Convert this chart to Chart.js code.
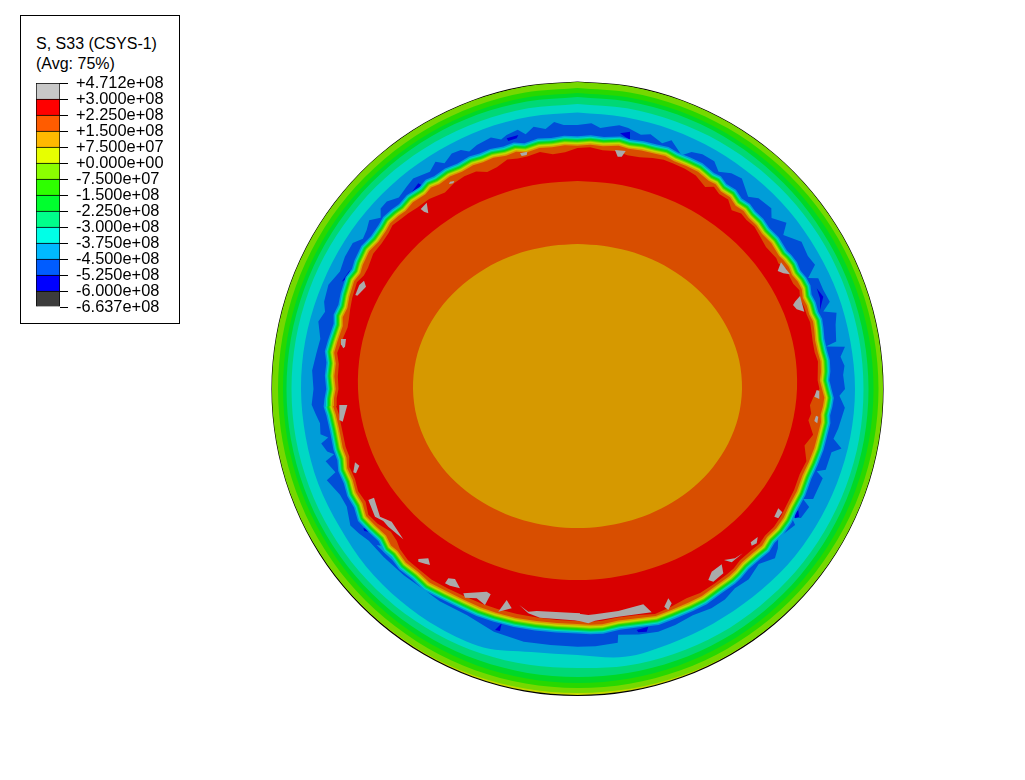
<!DOCTYPE html>
<html>
<head>
<meta charset="utf-8">
<title>S, S33 contour</title>
<script src="https://cdn.jsdelivr.net/npm/chart.js@4"></script>
<style>
  body { margin: 0; background: #fff; }
  #plot { position: absolute; left: 0; top: 0; }
  #legendBox { position: absolute; left: 20px; top: 15px; width: 160px; height: 309px; box-sizing: border-box; border: 1px solid #000; background: #fff; }
  #legendTitle { position: absolute; left: 15px; top: 18px; font: 16px/20px "Liberation Sans", sans-serif; color: #000; white-space: nowrap; }
  #legendCanvas { position: absolute; left: 0; top: 0; }
</style>
</head>
<body>
<canvas id="plot" width="1025" height="780"></canvas>
<div id="legendBox">
  <div id="legendTitle">S, S33 (CSYS-1)<br>(Avg: 75%)</div>
  <canvas id="legendCanvas" width="158" height="307"></canvas>
</div>
<script>
// legend, top to bottom
const legendLabels = ["+4.712e+08", "+3.000e+08", "+2.250e+08", "+1.500e+08", "+7.500e+07", "+0.000e+00", "-7.500e+07", "-1.500e+08",
  "-2.250e+08", "-3.000e+08", "-3.750e+08", "-4.500e+08", "-5.250e+08", "-6.000e+08", "-6.637e+08"];
const legendColors = ["#c8c8c8", "#ff0000", "#ff5c00", "#ffb900", "#e7ff00", "#8bff00", "#2eff00", "#00ff2e",
  "#00ff8b", "#00ffe7", "#00b9ff", "#005cff", "#0000ff", "#3c3c3c"];

// radii of the smooth contours, one value every 10 degrees clockwise from the top
const rimRadius = [307,307,306.8,306.5,306.3,306,305.8,305.6,305.5,305.5,305.6,305.8,306,306.2,306.4,306.5,306.5,306.5,306.5,306.5,306.5,306.4,306.2,306,305.8,305.6,305.5,305.5,305.5,305.6,305.8,306,306.3,306.5,306.8,307];
const limeRadius = [307,307,306.8,306.5,306.3,306,305.8,305.6,305.5,305.5,305.6,305.8,306,306,305.8,305.6,305,304.5,304,304,304.5,305,305.3,305.5,305.6,305.6,305.5,305.5,305.5,305.6,305.8,306,306.3,306.5,306.8,307];
const green1Radius = [301,301,301,301,301,301,301,301,301,301,301,300.8,300.5,300.3,300,299.8,299.5,299.2,299,299,299.2,299.3,299.4,299.5,299.5,299.5,299.5,299.5,299.6,299.8,300,300.2,300.4,300.6,300.8,301];
const green2Radius = [296,296,296,296,296,296,296,296,296,296,296,295.8,295.6,295.3,295,294.8,294.5,294.2,294,294,294.2,294.3,294.4,294.5,294.5,294.5,294.5,294.5,294.6,294.8,295,295.2,295.4,295.6,295.8,296];
const tealRadius = [292,292,292,291.8,291.5,291.3,291,291,291,291,291,290.8,290.6,290.4,290,289.5,289,288.5,288,288.3,288.7,289.2,289.8,290.3,290.6,290.8,291,291,291,291,291.2,291.4,291.6,291.8,292,292];
const cyanRadius = [285,285,285,285.3,285.5,285.7,286,286,286,286,286,285.6,285,284.5,283.5,283,282,281,279,280,281.5,282.5,283.5,284.5,285,285.5,286,286,286,286,285.8,285.6,285.4,285.2,285,285];
const blueRadius = [276.5,276,276,276,276,276.5,276.5,277,277,277.5,277,276,275,274,272,271,271,272,266,267,275,276,276,276,275,276,276,276.5,276.5,276,276,276,276,276,276.5,276.5];
const orangeRadius = [208,208.4,209.5,211.4,213.5,216,218.2,219.8,220.3,219.5,217.3,214,209.7,205,200.5,196.6,193.5,191.6,191,191.6,193.5,196.6,200.5,205,209.7,214,217.3,219.5,220.3,219.8,218.2,216,213.5,211.4,209.5,208.4];
const goldRadius = [145,145.5,147,149.4,152.4,155.9,159.4,162.3,164.2,164.5,163.2,160.3,156.4,152.1,147.8,144.2,141.3,139.6,139,139.6,141.3,144.2,147.8,152.1,156.4,160.3,163.2,164.5,164.2,162.3,159.4,155.9,152.4,149.4,147,145.5];

// jagged dark blue outer edge
const darkAngle = [0,3,5,6.7,9,11,14,16,19,20.7,24,25.7,28,31,33,35.5,38,41.6,43.5,47,48.6,51.5,53.2,56.7,60,62.4,64.3,65.3,68,70.9,72.5,73.6,76,79.6,80.3,81,83,85,87,90,91.5,94,98.6,101,102.7,104,108,109,110,115,116,117,120,121,122,126.6,128.5,130.6,134,138,141.7,145,148.6,153,157.5,161.6,166,170.6,171,176,180,186,192,199,206,213,216.6,223,229,234,236.5,239,243,246,250,251,254,255,256,258,259,260,262.4,264.5,266.6,270,274,278,281,284.6,287,289,292.7,296.3,299.6,303,305,307,309,311,312.5,314.5,317,319.8,322,325.8,328,329.5,331.9,334,335.5,337.6,341,343,344.4,347,348.5,350.5,353,355,357];
const darkRadius = [264,266,262,264,267,266,262,265,260,266,256,263,266,265.6,259,265,267,257,263,265,258.7,267,257,268,266,268,256,265,265,267,257.7,270,266,263,252,270.8,265,268,266,267.5,262,268,263.7,260.8,270.6,261.8,261,253,261,260,251,260,258,250,256.6,250,256,260,252,256,254,257,257,254,255.4,255.8,253,249,257,258,257.7,257.5,258.5,256.8,251.7,253,252.6,254.7,256.5,258,262,265,259,260,266.8,256,262,252,258,262,254,261,259.8,263,266.3,264,266,263.4,262,267.8,264,268,270,265,267.5,268,262,264,268,261,267,267.4,262,264.8,267,262.6,268,262,267,266,261,264,266,261,263.7,266,260,266,262,268,264.4];

// mid line of the steep ridge between the red and the dark blue
const ridgeAngle = [0,3,6,9.6,12,15,18,20.6,23,26,29,32.3,34,36,38.5,40.8,43,45,47.5,50,53,56.6,58,60,62,64,66,68,70,72.2,74,76,78.5,81.2,83.5,86,88,90,92,94,96,97.7,101,104,107.5,111,115,118.8,122,125.1,128,130.3,133,136.5,139,141,145,149,152.5,157,161,165,170,174,177,180,185,190,195,200,204,208.6,213,217.4,221,224.7,228,230,232.6,236,239,242,245,248,251,253.5,256,260.6,264,266,267.8,270,273,276,278.5,281,285,287,289.4,292,295.8,298,300,303.5,306.5,309.5,311.5,314,316,318.6,322,324,326,329,332,335,337.4,340,343,345.5,347.8,351,354,357];
const ridgeRadius = [242.3,243.5,243,245.7,244.5,246,246.5,248,246.5,247,247.5,245,246,243,244,241,242.5,241,241.5,240,241.5,240.5,242,243,242,244,244.5,242,243,242.4,244,243,241.5,242,243.5,243,241.5,243.5,246,245,243.5,244.7,243.5,243,241.5,240,241,240.6,242,241.6,239.5,241,239,238,239.5,240,239.5,240.5,239.8,239,239,236,234,235.5,235,234,234,234.6,236,237,238,238.4,240,242.7,241.5,243,241,242.5,240,243,245.6,242.5,243.5,241.5,242.5,240,241,240.7,242,244,242.7,240.8,242.5,242,245,243.8,242,244.5,243,245,247,245,247,248.8,246.5,247.3,249,248,246.5,247.8,246,248,246,246.8,245,246,244.5,245,243,244,241,243,242,243];
// where the solid red really stops, same angles, with its dents
const redRadius = [241,242,240,241,239,240,243,245,245,245,244,239,244,241,242,236,240,239,240,238,236,238,237,241,240,240,243,240,241,241,242,241,240,240,242,241,240,242,236,233,235,233,240,234,240,238,239,239,240,240,238,239,237,236,238,238,238,238,236,237,238,234,232,233,233,232,232,232,233,234,235,236,238,240,240,241,239,236,235,241,244,240,242,240,241,238,239,239,240,242,241,239,240,240,243,241,238,239,241,243,245,242,242,245,244,245,247,245,244,242,241,239,237,240,241,240,235,236,240,238,238,240,236,237]; 
// distance of each ridge contour from the mid line, outermost first
const ridgeOffsets = [10.5, 9, 8, 7, 6, 5, 4, 2.5, 1];
const ridgeColors = ["#009dd8", "#00d8c4", "#00d876", "#00d827", "#27d800", "#76d800", "#c4d800", "#d89d00", "#d84e00"];

// patches below are x and y measured from the disc centre
const greyPatches = [
  [[-57.5,235.7],[-50.2,237.3],[-50.8,234],[-55.8,233]],
  [[-127.5,207.3],[-123.2,208],[-124.2,205.7],[-128.5,205]],
  [[-150.8,186.3],[-149.2,175.7],[-153.5,177.3],[-156.8,180]],
  [[-213.5,108.3],[-211.5,102.3],[-220.2,93.3],[-222.2,94],[-218.2,104]],
  [[-236.5,50],[-231.5,50],[-232.5,42.3],[-234.2,40.7],[-236.5,44.7]],
  [[37.5,239],[48.2,238],[44.2,232.3],[40.2,232.3]],
  [[203.5,126.7],[212.5,114.7],[205.8,115.7],[200.2,118]],
  [[222.5,93],[226.8,77.3],[219.2,79.7],[215.5,84],[217.5,87.3]],
  [[-238.2,-16],[-230.2,-16],[-234.8,-32.7],[-238.2,-31]],
  [[-222.5,-73.3],[-218.2,-76.7],[-221.5,-84.3],[-224.2,-83.3]],
  [[-209.2,-111],[-203.5,-108.7],[-197.5,-127.7],[-185.8,-132.7],[-174.2,-150.3],[-189.2,-137.7],[-194.2,-132],[-202.5,-127.7]],
  [[-159.2,-170],[-149.2,-169.3],[-147.5,-176],[-154.2,-174.3],[-159.2,-172.7]],
  [[-129.2,-189.3],[-122.5,-190],[-117.5,-199.3],[-127.5,-196.7],[-132.5,-194.3]],
  [[-114.2,-204.3],[-90.8,-202.7],[-86.8,-205.3],[-92.5,-216],[-100.8,-209.3],[-112.5,-208.7]],
  [[-70.8,-211],[-65.8,-219.3],[-79.2,-222.7]],
  [[-58.2,-216],[-49.2,-222.7],[-40.8,-222],[2.5,-224.3],[2.5,-231.7],[-37.5,-228.7],[-49.2,-224.3]],
  [[-2.5,-224.3],[10.8,-226],[17.5,-225.3],[40.8,-222],[65.8,-215.3],[74.2,-223.3],[40.8,-227.7],[17.5,-231.7],[10.8,-234.3],[-2.5,-231]],
  [[90.8,-209.3],[94.2,-214.3],[90.8,-221],[86.8,-217.7]],
  [[144.2,-175.3],[145.8,-184.3],[135.8,-192.7],[130.8,-191],[134.2,-182.7]],
  [[165.2,-164.3],[154.2,-173.3],[146.5,-171],[157.5,-169.3]],
  [[180.2,-148],[179.2,-154.3],[174.2,-156.7],[173.2,-153.3]],
  [[200.8,-119.3],[204.8,-123.3],[200.8,-129.3],[196.8,-127.7]],
  [[239.2,-1],[241.8,-2],[241.8,-10],[236.8,-7.7]],
  [[238.5,-26.7],[240.8,-27.7],[239.8,-34.3],[236.8,-32]]
];
const deepBluePatches = [
  [[-169.2,192.3],[-159.2,205.7],[-155.8,204],[-164.2,194]],
  [[-70.8,250.7],[-59.2,254],[-60.8,250.7],[-69.2,248]],
  [[-235.8,107.3],[-227.5,119],[-229.2,110.7]],
  [[42.5,255.7],[52.5,257.3],[52.5,249],[47.5,252.3]],
  [[239.2,100.7],[245.8,92.3],[242.5,79],[242.5,90.7]],
  [[-214.2,-139.3],[-207.5,-139.3],[-209.2,-142.7],[-213.2,-142]],
  [[-82.5,-241],[-75.8,-234.3],[-77.5,-242]],
  [[-140.8,-204.3],[-130.8,-209.3],[-134.2,-211]],
  [[59.2,-241],[70.8,-237.7],[69.2,-242.7],[60.8,-243.3]],
  [[217.5,-124.3],[220.8,-121],[221.5,-127.7],[217.5,-129.3]]
];
// lighter gap between the ridge and the dark blue, lower left
const blueGaps = [
  [[-200.8,-156],[-192.5,-164.3],[-150.8,-202.7],[-144.2,-197.7],[-184.2,-159.3]]
];

const smoothAngle = rimRadius.map((r, i) => i * 10);

function toPoints(angles, radii) {
  const pts = angles.map((a, i) => {
    const t = a * Math.PI / 180;
    return { x: radii[i] * Math.sin(t), y: radii[i] * Math.cos(t) };
  });
  pts.push(pts[0]);
  return pts;
}

function patchPoints(patch) {
  const pts = patch.map(p => ({ x: p[0], y: p[1] }));
  pts.push(pts[0]);
  return pts;
}

function band(points, color, tension) {
  return { data: points, backgroundColor: color, borderWidth: 0, fill: "shape", showLine: true, pointRadius: 0, tension: tension || 0 };
}

let datasets = [];
let rim = band(toPoints(smoothAngle, rimRadius), "#c4d800", 0.33);
rim.borderWidth = 1.2;
rim.borderColor = "#000";
datasets.push(rim);
datasets.push(band(toPoints(smoothAngle, limeRadius), "#76d800", 0.33));
datasets.push(band(toPoints(smoothAngle, green1Radius), "#27d800", 0.33));
datasets.push(band(toPoints(smoothAngle, green2Radius), "#00d827", 0.33));
datasets.push(band(toPoints(smoothAngle, tealRadius), "#00d876", 0.33));
datasets.push(band(toPoints(smoothAngle, cyanRadius), "#00d8c4", 0.33));
datasets.push(band(toPoints(smoothAngle, blueRadius), "#009dd8", 0.33));
datasets.push(band(toPoints(darkAngle, darkRadius), "#004ed8"));
deepBluePatches.forEach(p => datasets.push(band(patchPoints(p), "#0000d8")));
blueGaps.forEach(p => datasets.push(band(patchPoints(p), "#009dd8")));
ridgeOffsets.forEach((off, i) => {
  datasets.push(band(toPoints(ridgeAngle, ridgeRadius.map(r => r + off)), ridgeColors[i]));
});
datasets.push(band(toPoints(ridgeAngle, redRadius), "#d80000"));
greyPatches.forEach(p => datasets.push(band(patchPoints(p), "#aaaaaa")));
datasets.push(band(toPoints(smoothAngle, orangeRadius), "#d84e00", 0.33));
datasets.push(band(toPoints(smoothAngle, goldRadius), "#d69900", 0.33));
// first dataset is drawn last by default, so turn that round
datasets.forEach((d, i) => { d.order = -i; });

new Chart(document.getElementById("plot"), {
  type: "scatter",
  data: { datasets: datasets },
  options: {
    responsive: false,
    animation: false,
    events: [],
    plugins: { legend: { display: false }, tooltip: { enabled: false } },
    scales: {
      x: { type: "linear", display: false, min: -577.5, max: 447.5 },
      y: { type: "linear", display: false, min: -391, max: 389 }
    }
  }
});

// colour bar, drawn bottom up as one stacked bar
const barSets = legendColors.slice().reverse().map(c => ({
  data: [1], backgroundColor: c, borderColor: "#000", borderWidth: 1, barPercentage: 1, categoryPercentage: 1
}));

new Chart(document.getElementById("legendCanvas"), {
  type: "bar",
  data: { labels: [""], datasets: barSets },
  options: {
    responsive: false,
    animation: false,
    events: [],
    layout: { padding: { left: 15, top: 67, bottom: 16, right: 0 } },
    plugins: { legend: { display: false }, tooltip: { enabled: false } },
    scales: {
      x: { stacked: true, display: false },
      y: {
        stacked: true,
        position: "right",
        min: 0,
        max: 14,
        afterFit: s => { s.width = 119; s.paddingTop = 0; s.paddingBottom = 0; },
        border: { display: false },
        grid: { drawOnChartArea: false, color: "#000", tickLength: 8, lineWidth: 1 },
        ticks: {
          stepSize: 1,
          autoSkip: false,
          padding: 8,
          labelOffset: 0.5,
          color: "#000",
          font: { family: "Liberation Sans", size: 16.4 },
          callback: v => legendLabels[14 - v]
        }
      }
    }
  }
});
</script>
</body>
</html>
